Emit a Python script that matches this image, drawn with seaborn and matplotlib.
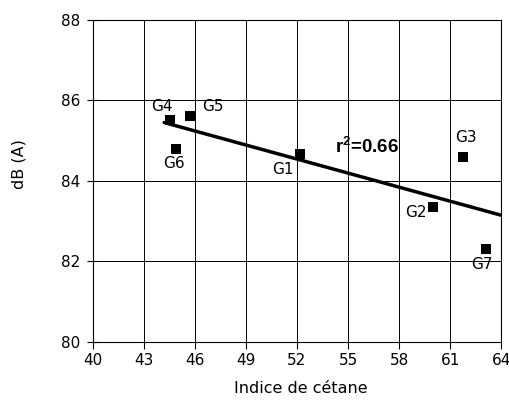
import numpy as np
import pandas as pd
import seaborn as sns
import matplotlib
matplotlib.use("Agg")
import matplotlib.pyplot as plt

# Data
labels = ["G1", "G2", "G3", "G4", "G5", "G6", "G7"]
cetane = [52.2, 60.0, 61.75, 44.55, 45.7, 44.9, 63.1]
noise = [84.66, 83.34, 84.60, 85.52, 85.62, 84.80, 82.30]
x_ticks = [40, 43, 46, 49, 52, 55, 58, 61, 64]
y_ticks = [80, 82, 84, 86, 88]
r2_text = "r$^{\\mathbf{2}}$=0.66"

# label positions (data coords) for point names
label_pos = {
    "G1": (51.2, 84.29),
    "G2": (59.0, 83.22),
    "G3": (61.95, 85.09),
    "G4": (44.07, 85.84),
    "G5": (47.05, 85.86),
    "G6": (44.8, 84.44),
    "G7": (62.85, 81.91),
}

sns.set_theme(style="white")
plt.rcParams["font.family"] = ["DejaVu Sans"]
plt.rcParams["mathtext.fontset"] = "custom"
plt.rcParams["mathtext.bf"] = "Liberation Sans:bold"

df = pd.DataFrame({"label": labels, "cetane": cetane, "noise": noise})

fig = plt.figure(figsize=(5.1, 4.05), dpi=100)
ax = fig.add_axes([0.1818, 0.1563, 0.8009, 0.7943])

ax.set_xlim(40, 64)
ax.set_ylim(80, 88)
ax.set_xticks(x_ticks)
ax.set_yticks(y_ticks)
ax.grid(True, color="black", linewidth=0.7)
ax.set_axisbelow(True)
for s in ax.spines.values():
    s.set_color("black")
    s.set_linewidth(0.8)

# regression line
slope, intercept = np.polyfit(df["cetane"], df["noise"], 1)
xl = np.array([44.2, 64.0])
line_df = pd.DataFrame({"x": xl, "y": slope * xl + intercept})
sns.lineplot(data=line_df, x="x", y="y", color="black", linewidth=2.5, ax=ax, zorder=3)

sns.scatterplot(data=df, x="cetane", y="noise", marker="s", s=62, color="black",
                linewidth=0, ax=ax, zorder=4)

for lab in labels:
    px, py = label_pos[lab]
    ax.text(px, py, lab, ha="center", va="center", fontsize=11, color="black")

ax.text(54.25, 84.85, r2_text, ha="left", va="center", fontsize=13.5,
        fontweight="bold", color="black", family="Liberation Sans")

ax.tick_params(axis="x", direction="out", length=5, width=0.8, pad=3,
               labelsize=11, colors="black", bottom=True)
ax.tick_params(axis="y", direction="inout", length=8, width=0.8, pad=5,
               labelsize=11, colors="black", left=True)

ax.set_xlabel("Indice de cétane", fontsize=11.5, color="black")
ax.set_ylabel("dB (A)", fontsize=11.5, color="black")
ax.xaxis.set_label_coords(0.51, -0.122)
ax.yaxis.set_label_coords(-0.161, 0.552)

fig.savefig("out.png", dpi=100)
